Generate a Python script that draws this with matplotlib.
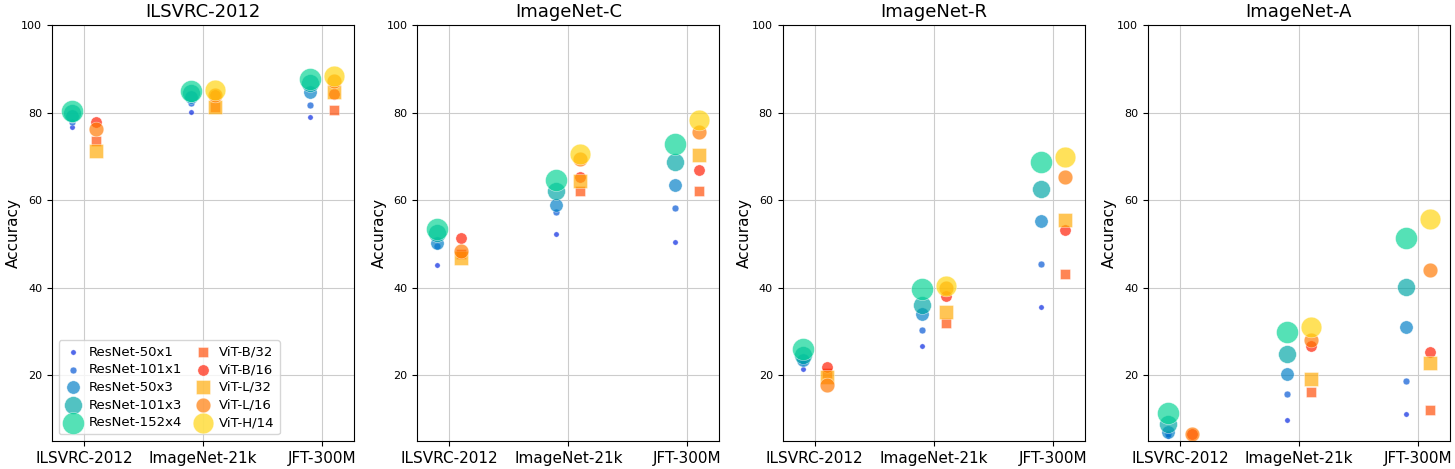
"""Accuracy of ResNet and ViT models pretrained on three datasets, four test sets."""

import matplotlib
matplotlib.use("Agg")
import matplotlib.pyplot as plt
import numpy as np

panels = ["ILSVRC-2012", "ImageNet-C", "ImageNet-R", "ImageNet-A"]
pretrain = ["ILSVRC-2012", "ImageNet-21k", "JFT-300M"]

resnet_names = ["ResNet-50x1", "ResNet-101x1", "ResNet-50x3", "ResNet-101x3", "ResNet-152x4"]
vit_names = ["ViT-B/32", "ViT-B/16", "ViT-L/32", "ViT-L/16", "ViT-H/14"]

# accuracy[panel][model] -> values for (ILSVRC-2012, ImageNet-21k, JFT-300M) pretraining
resnet_acc = {
    "ILSVRC-2012": {
        "ResNet-50x1": [76.8, 80.1, 78.9],
        "ResNet-101x1": [77.9, 82.1, 81.7],
        "ResNet-50x3": [79.2, 83.6, 84.8],
        "ResNet-101x3": [80.0, 84.5, 86.7],
        "ResNet-152x4": [80.4, 85.0, 87.6],
    },
    "ImageNet-C": {
        "ResNet-50x1": [45.3, 52.2, 50.5],
        "ResNet-101x1": [49.5, 57.2, 58.3],
        "ResNet-50x3": [50.3, 58.9, 63.4],
        "ResNet-101x3": [52.6, 62.2, 68.6],
        "ResNet-152x4": [53.5, 64.5, 72.9],
    },
    "ImageNet-R": {
        "ResNet-50x1": [21.5, 26.8, 35.5],
        "ResNet-101x1": [23.0, 30.4, 45.5],
        "ResNet-50x3": [23.6, 34.1, 55.3],
        "ResNet-101x3": [24.7, 36.0, 62.6],
        "ResNet-152x4": [25.9, 39.8, 68.7],
    },
    "ImageNet-A": {
        "ResNet-50x1": [6.2, 9.9, 11.2],
        "ResNet-101x1": [6.5, 15.7, 18.8],
        "ResNet-50x3": [7.1, 20.3, 31.1],
        "ResNet-101x3": [8.9, 24.9, 40.2],
        "ResNet-152x4": [11.5, 30.0, 51.3],
    },
}

vit_acc = {
    "ILSVRC-2012": {
        "ViT-B/32": [73.4, 81.2, 80.7],
        "ViT-B/16": [77.9, 83.9, 84.2],
        "ViT-L/32": [71.2, 81.3, 84.6],
        "ViT-L/16": [76.3, 84.1, 87.1],
        "ViT-H/14": [np.nan, 85.2, 88.4],
    },
    "ImageNet-C": {
        "ViT-B/32": [47.6, 62.2, 62.0],
        "ViT-B/16": [51.3, 65.2, 66.9],
        "ViT-L/32": [46.9, 64.4, 70.4],
        "ViT-L/16": [48.3, 69.5, 75.5],
        "ViT-H/14": [np.nan, 70.5, 78.3],
    },
    "ImageNet-R": {
        "ViT-B/32": [20.5, 31.9, 43.2],
        "ViT-B/16": [22.0, 38.0, 53.1],
        "ViT-L/32": [19.6, 34.4, 55.5],
        "ViT-L/16": [17.9, 40.0, 65.3],
        "ViT-H/14": [np.nan, 40.3, 69.9],
    },
    "ImageNet-A": {
        "ViT-B/32": [3.0, 16.3, 12.0],
        "ViT-B/16": [6.5, 26.6, 25.4],
        "ViT-L/32": [3.0, 19.1, 22.8],
        "ViT-L/16": [6.7, 28.1, 44.0],
        "ViT-H/14": [np.nan, 31.0, 55.8],
    },
}

resnet_style = {
    "ResNet-50x1": ("#0022e0", "o", 15),
    "ResNet-101x1": ("#0055d4", "o", 24),
    "ResNet-50x3": ("#007ec6", "o", 92),
    "ResNet-101x3": ("#00a5a5", "o", 165),
    "ResNet-152x4": ("#05d494", "o", 250),
}
vit_style = {
    "ViT-B/32": ("#ff4c05", "s", 52),
    "ViT-B/16": ("#ff1a00", "o", 66),
    "ViT-L/32": ("#ffaa05", "s", 92),
    "ViT-L/16": ("#ff7800", "o", 112),
    "ViT-H/14": ("#ffd40c", "o", 222),
}

fig, axes = plt.subplots(1, 4, figsize=(14.55, 4.69), dpi=100)
fig.subplots_adjust(left=0.0357, right=0.9966, bottom=0.0597, top=0.9467, wspace=0.2086)

x = np.arange(len(pretrain))
for ax, panel in zip(axes, panels):
    ax.set_axisbelow(True)
    ax.grid(True, color="#cccccc", lw=0.8)
    for name in resnet_names:
        c, m, s = resnet_style[name]
        ax.scatter(x - 0.1, resnet_acc[panel][name], s=s, c=c, marker=m,
                   alpha=0.68, edgecolors="white", linewidths=0.4, label=name)
    for name in vit_names:
        c, m, s = vit_style[name]
        ax.scatter(x + 0.1, vit_acc[panel][name], s=s, c=c, marker=m,
                   alpha=0.68, edgecolors="white", linewidths=0.4, label=name)
    ax.set_xlim(-0.27, 2.27)
    ax.set_ylim(5, 100)
    ax.set_xticks(x)
    ax.set_xticklabels(pretrain, fontsize=11)
    ax.set_yticks([20, 40, 60, 80, 100])
    ax.tick_params(axis="y", labelsize=8)
    ax.set_title(panel, fontsize=13)
    ax.set_ylabel("Accuracy", fontsize=11, labelpad=0)

axes[0].legend(loc="lower left", ncol=2, fontsize=9.5, columnspacing=0.9,
               handlelength=1.4, handletextpad=0.5, borderpad=0.4,
               labelspacing=0.35)

fig.savefig("out.png", dpi=100)
